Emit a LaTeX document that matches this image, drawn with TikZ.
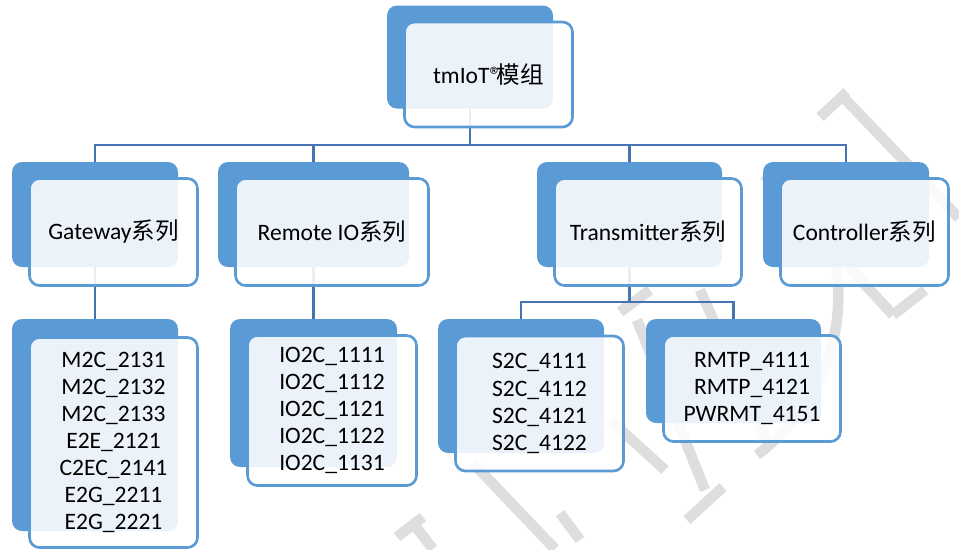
\documentclass[tikz,border=0pt]{standalone}
\usepackage{fontspec}
\setmainfont{Carlito}
\newfontfamily\cjk{Noto Sans CJK SC}
\usetikzlibrary{calc}

\definecolor{boxblue}{RGB}{91,155,213}
\definecolor{linkblue}{RGB}{68,117,178}
\definecolor{markgray}{RGB}{222,222,222}

\tikzset{
  back/.style={fill=boxblue, rounded corners=0.2cm, inner sep=0pt},
  front/.style={draw=boxblue, fill=white, fill opacity=0.88, text opacity=1,
    line width=1.5pt, rounded corners=0.2cm, inner sep=0pt, align=center,
    font=\fontsize{13.4}{15.4}\selectfont},
  link/.style={draw=linkblue, line width=1.5pt},
  wmark/.style={draw=markgray, line width=6pt},
}

\begin{document}
\begin{tikzpicture}[x=0.02cm, y=-0.02cm]
  \useasboundingbox (0,0) rectangle (959,549);

  % watermark strokes
  \draw[wmark] (820,117) -- (847,92);
  \draw[wmark] (843,97) -- (959,218);
  \draw[wmark] (764,175) -- (893,315);
  \draw[wmark] (893,315) -- (925,290);
  \draw[wmark] (815,200) .. controls (865,300) and (830,400) .. (757,455);
  \draw[wmark] (620,312) -- (650,290);
  \draw[wmark] (637,320) -- (705,490);
  \draw[wmark] (700,290) -- (770,447);
  \draw[wmark] (687,520) -- (723,487);
  \draw[wmark] (473,463) -- (555,549);
  \draw[wmark] (610,420) -- (665,470);
  \draw[wmark] (397,537) -- (423,517);
  \draw[wmark] (413,523) -- (433,549);
  \draw[wmark] (560,513) -- (580,540);

  % back shapes
  \node[back, minimum width=166*0.02cm, minimum height=103*0.02cm] (rootB) at (470,57) {};
  \node[back, minimum width=166*0.02cm, minimum height=105*0.02cm] (gwB) at (95,214.5) {};
  \node[back, minimum width=191*0.02cm, minimum height=105*0.02cm] (rioB) at (313.5,214.5) {};
  \node[back, minimum width=185*0.02cm, minimum height=105*0.02cm] (trB) at (629.5,214.5) {};
  \node[back, minimum width=166*0.02cm, minimum height=105*0.02cm] (ctB) at (846,214.5) {};
  \node[back, minimum width=166*0.02cm, minimum height=212*0.02cm] (gwlB) at (95,425) {};
  \node[back, minimum width=167*0.02cm, minimum height=148*0.02cm] (iolB) at (313.5,393) {};
  \node[back, minimum width=166*0.02cm, minimum height=134*0.02cm] (s2cB) at (521,386) {};
  \node[back, minimum width=175*0.02cm, minimum height=104*0.02cm] (rmB) at (733.5,371) {};

  % connectors
  \coordinate (bus1) at (0,145);
  \coordinate (bus2) at (0,302);
  \draw[link] (rootB.south) -- (rootB.south |- bus1);
  \draw[link] (gwB.north) |- (ctB.north |- bus1) -- (ctB.north);
  \draw[link] (rioB.north) -- (rioB.north |- bus1);
  \draw[link] (trB.north) -- (trB.north |- bus1);
  \draw[link] (gwB.south) -- (gwlB.north);
  \draw[link] (rioB.south) -- (iolB.north);
  \draw[link] (trB.south) -- (trB.south |- bus2);
  \draw[link] (s2cB.north) |- (rmB.north |- bus2) -- (rmB.north);

  % front shapes with text
  \node[front, minimum width=168*0.02cm, minimum height=105*0.02cm] (root) at ([shift={(18.5,17.5)}]rootB.center)
    {tmIoT®\kern-0.2em{\cjk 模组}};
  \node[front, minimum width=168*0.02cm, minimum height=107*0.02cm] (gw) at ([shift={(18.5,17.5)}]gwB.center) {Gateway{\cjk 系列}};
  \node[front, minimum width=193*0.02cm, minimum height=107*0.02cm] (rio) at ([shift={(18.5,17.5)}]rioB.center) {Remote IO{\cjk 系列}};
  \node[front, minimum width=187*0.02cm, minimum height=107*0.02cm] (tr) at ([shift={(18.5,17.5)}]trB.center) {Transmitter{\cjk 系列}};
  \node[front, minimum width=168*0.02cm, minimum height=107*0.02cm] (ct) at ([shift={(18.5,17.5)}]ctB.center) {Controller{\cjk 系列}};
  \node[front, minimum width=168*0.02cm, minimum height=210*0.02cm] (gwl) at ([shift={(18.5,17.5)}]gwlB.center)
    {M2C\_2131\\M2C\_2132\\M2C\_2133\\E2E\_2121\\C2EC\_2141\\E2G\_2211\\E2G\_2221};
  \node[front, minimum width=169*0.02cm, minimum height=150*0.02cm] (iol) at ([shift={(18.5,17.5)}]iolB.center)
    {IO2C\_1111\\IO2C\_1112\\IO2C\_1121\\IO2C\_1122\\IO2C\_1131};
  \node[front, minimum width=168*0.02cm, minimum height=135*0.02cm] (s2c) at ([shift={(18.5,17.5)}]s2cB.center)
    {S2C\_4111\\S2C\_4112\\S2C\_4121\\S2C\_4122};
  \node[front, minimum width=177*0.02cm, minimum height=106*0.02cm] (rm) at ([shift={(18.5,17.5)}]rmB.center)
    {RMTP\_4111\\RMTP\_4121\\PWRMT\_4151};
\end{tikzpicture}
\end{document}
